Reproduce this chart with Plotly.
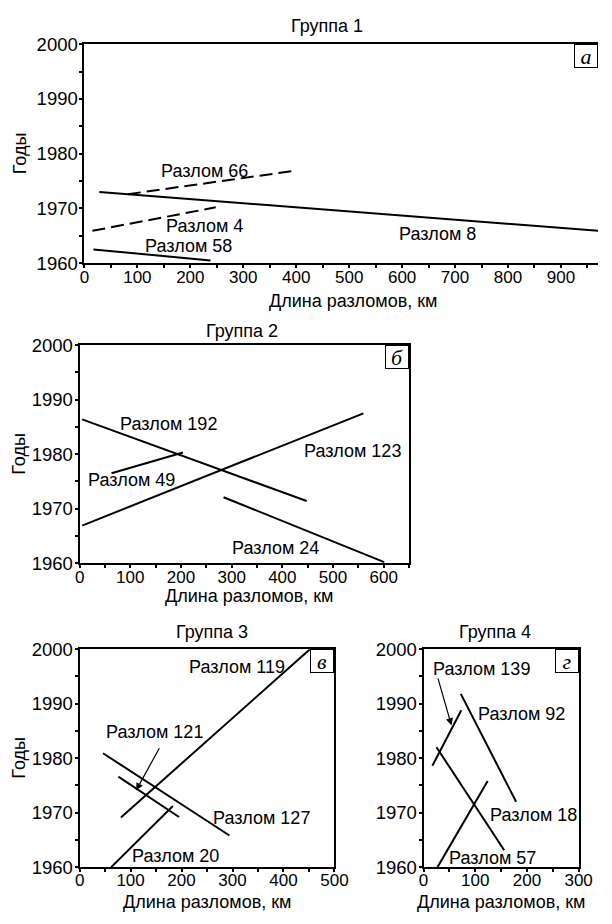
import plotly.graph_objects as go

# ---------------- data ----------------
g1_names = ["Разлом 8", "Разлом 66", "Разлом 4", "Разлом 58"]
g1_x = [[28, 970], [82, 392], [15, 248], [17, 238]]
g1_y = [[1973.0, 1965.9], [1972.6, 1976.8], [1965.9, 1970.2], [1962.5, 1960.5]]
g1_dash = ["solid", "dash", "dash", "solid"]
g1_lab_x = [667, 226, 226, 196]
g1_lab_y = [1965.4, 1976.9, 1966.8, 1963.2]

g2_names = ["Разлом 192", "Разлом 123", "Разлом 49", "Разлом 24"]
g2_x = [[5, 448], [5, 560], [63, 204], [284, 601]]
g2_y = [[1986.4, 1971.4], [1966.9, 1987.5], [1976.5, 1980.3], [1972.1, 1960.2]]
g2_lab_x = [175, 538, 103, 386]
g2_lab_y = [1985.5, 1980.5, 1975.2, 1962.8]

g3_names = ["Разлом 119", "Разлом 127", "Разлом 121", "Разлом 20"]
g3_x = [[81, 452], [46, 294], [76, 195], [62, 183]]
g3_y = [[1969.1, 2000.0], [1980.9, 1965.8], [1976.6, 1969.2], [1960.0, 1971.2]]
g3_lab_x = [308, 357, 147, 189]
g3_lab_y = [1996.8, 1969.1, 1984.8, 1962.0]
g3_arrow = {"label": "Разлом 121", "tail": (158, 1982.1), "head": (111, 1974.1)}

g4_names = ["Разлом 139", "Разлом 92", "Разлом 57", "Разлом 18"]
g4_x = [[17, 73], [72, 179], [25, 156], [27, 124]]
g4_y = [[1978.6, 1988.8], [1991.8, 1972.0], [1982.0, 1963.1], [1960.0, 1975.8]]
g4_lab_names = ["Разлом 139", "Разлом 92", "Разлом 18", "Разлом 57"]
g4_lab_x = [112, 189, 212, 134]
g4_lab_y = [1996.4, 1988.1, 1969.5, 1961.7]
g4_arrow = {"label": "Разлом 139", "tail": (27, 1994.9), "head": (54, 1986.0)}

group_titles = ["Группа 1", "Группа 2", "Группа 3", "Группа 4"]
panel_letters = ["а", "б", "в", "г"]
x_title = "Длина разломов, км"
y_title = "Годы"
x_ranges = [[0, 970], [0, 650], [0, 500], [0, 300]]
y_range = [1960, 2000]

# ---------------- layout geometry (pixels) ----------------
W, H = 612, 924
def px_x(p):
    return p / W
def px_y(p):
    return 1 - p / H

panels = [
    dict(x0=82, x1=612, y0=34, y1=258, title_x=332, title_y=15, xt_x=360, xt_y=297, yt=True),
    dict(x0=77, x1=417, y0=342, y1=565, title_x=245, title_y=327, xt_x=252, xt_y=599, yt=True),
    dict(x0=77, x1=340, y0=653, y1=876, title_x=214, title_y=635, xt_x=209, xt_y=912, yt=True),
    dict(x0=432, x1=592, y0=653, y1=876, title_x=506, title_y=635, xt_x=512, xt_y=912, yt=False),
]

FONT = "Liberation Sans, Arial, sans-serif"
FS = 18
XTFS = 17
YTFS = 18.5

fig = go.Figure()
annotations = []

groups = [
    (g1_x, g1_y, g1_dash),
    (g2_x, g2_y, ["solid"] * 4),
    (g3_x, g3_y, ["solid"] * 4),
    (g4_x, g4_y, ["solid"] * 4),
]
groups_names = [g1_names, g2_names, g3_names, g4_names]

for i, (gx, gy, gd) in enumerate(groups):
    xa = "x" if i == 0 else f"x{i+1}"
    ya = "y" if i == 0 else f"y{i+1}"
    for name, xs, ys, d in zip(groups_names[i], gx, gy, gd):
        fig.add_trace(go.Scatter(
            x=xs, y=ys, mode="lines", name=name, xaxis=xa, yaxis=ya,
            line=dict(color="black", width=2, dash="13px,6px" if d == "dash" else "solid"),
            showlegend=False, hoverinfo="skip",
        ))

lab_sets = [
    (g1_names, g1_lab_x, g1_lab_y),
    (g2_names, g2_lab_x, g2_lab_y),
    (g3_names, g3_lab_x, g3_lab_y),
    (g4_lab_names, g4_lab_x, g4_lab_y),
]
for i, (names, lx, ly) in enumerate(lab_sets):
    xa = "x" if i == 0 else f"x{i+1}"
    ya = "y" if i == 0 else f"y{i+1}"
    for n, xv, yv in zip(names, lx, ly):
        annotations.append(dict(x=xv, y=yv, xref=xa, yref=ya, text=n, showarrow=False,
                                xanchor="center", yanchor="middle",
                                font=dict(family=FONT, size=FS, color="black")))

for i, arr in [(2, g3_arrow), (3, g4_arrow)]:
    xa = f"x{i+1}"
    ya = f"y{i+1}"
    annotations.append(dict(
        x=arr["head"][0], y=arr["head"][1], ax=arr["tail"][0], ay=arr["tail"][1],
        xref=xa, yref=ya, axref=xa, ayref=ya, text="", showarrow=True,
        arrowhead=2, arrowsize=1.2, arrowwidth=1.2, arrowcolor="black", standoff=0,
    ))

layout = dict(width=W, height=H, margin=dict(l=0, r=0, t=0, b=0),
              paper_bgcolor="white", plot_bgcolor="white", showlegend=False)

for i, p in enumerate(panels):
    xk = "xaxis" if i == 0 else f"xaxis{i+1}"
    yk = "yaxis" if i == 0 else f"yaxis{i+1}"
    xa = "x" if i == 0 else f"x{i+1}"
    ya = "y" if i == 0 else f"y{i+1}"
    layout[xk] = dict(
        domain=[px_x(p["x0"]), min(1.0, px_x(p["x1"]))], range=x_ranges[i], anchor=ya,
        showgrid=False, zeroline=False, showline=True, linecolor="black", linewidth=2,
        mirror=True, ticks="outside", ticklen=3, tickwidth=1.5, tickcolor="black",
        dtick=100, tick0=0, ticklabelstandoff=-6,
        minor=dict(dtick=50, ticks="outside", ticklen=3, tickwidth=1.5, tickcolor="black"),
        tickfont=dict(family=FONT, size=XTFS, color="black"),
        fixedrange=True,
    )
    layout[yk] = dict(
        domain=[px_y(p["y1"]), px_y(p["y0"])], range=y_range, anchor=xa,
        showgrid=False, zeroline=False, showline=True, linecolor="black", linewidth=2,
        mirror=(i != 0), ticks="outside", ticklen=3, tickwidth=1.5, tickcolor="black",
        dtick=10, tick0=1960, ticklabelstandoff=-2,
        minor=dict(dtick=5, ticks="outside", ticklen=3, tickwidth=1.5, tickcolor="black"),
        tickfont=dict(family=FONT, size=YTFS, color="black"),
        fixedrange=True,
    )
    annotations.append(dict(x=px_x(p["title_x"]), y=px_y(p["title_y"]), xref="paper", yref="paper",
                            xanchor="center", yanchor="middle",
                            text=group_titles[i], showarrow=False,
                            font=dict(family=FONT, size=FS, color="black")))
    annotations.append(dict(x=px_x(p["xt_x"]), y=px_y(p["xt_y"]), xref="paper", yref="paper",
                            xanchor="center", yanchor="middle",
                            text=x_title, showarrow=False,
                            font=dict(family=FONT, size=FS, color="black")))
    if p["yt"]:
        annotations.append(dict(x=px_x(15), y=px_y((p["y0"] + p["y1"]) / 2), xref="paper", yref="paper",
                                xanchor="center", yanchor="middle",
                                text=y_title, showarrow=False, textangle=-90,
                                font=dict(family=FONT, size=FS, color="black")))
    annotations.append(dict(x=1, y=1, xref=f"{xa} domain", yref=f"{ya} domain",
                            xanchor="right", yanchor="top", text=f"<i>{panel_letters[i]}</i>",
                            showarrow=False, bgcolor="white", bordercolor="black", borderwidth=1,
                            width=22, height=22, borderpad=0,
                            font=dict(family="Liberation Serif, Times New Roman, serif", size=22, color="black")))

layout["annotations"] = annotations
fig.update_layout(**layout)

fig.write_html("out.html")
